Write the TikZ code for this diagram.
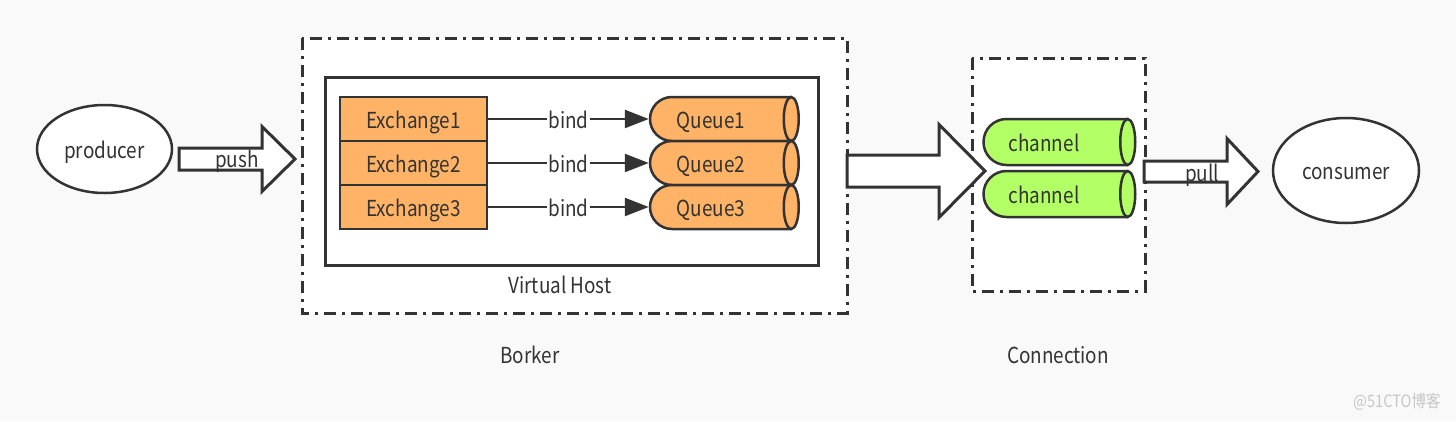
\documentclass[tikz,border=0pt]{standalone}
\usepackage{fontspec}
\setmainfont{Noto Sans CJK SC}[FakeStretch=0.86]
\usetikzlibrary{shapes.geometric,shapes.misc,arrows.meta}
\definecolor{ink}{HTML}{333333}
\definecolor{qorange}{HTML}{FFB366}
\definecolor{chgreen}{HTML}{B3FF66}
\definecolor{paper}{HTML}{F9F9F9}
\tikzstyle{lbl}=[inner sep=0pt,text=ink,text height=20pt,text depth=2pt,font=\fontsize{22}{24}\selectfont]
% tail x, mid y, head base x, tip x, shaft half, head half
\newcommand{\blockarrow}[6]{%
  \draw[fatline] (#1,#2-#5) -- (#3,#2-#5) -- (#3,#2-#6) -- (#4,#2) -- (#3,#2+#6) -- (#3,#2+#5) -- (#1,#2+#5) -- cycle;}

\begin{document}
\begin{tikzpicture}[x=1pt,y=-1pt]
    \tikzstyle{client}=[ellipse,draw=ink,line width=2.5pt,fill=white,inner sep=0pt,lbl]
    \tikzstyle{exchange}=[rectangle,draw=ink,line width=2.5pt,fill=qorange,minimum width=147pt,minimum height=44pt,lbl]
    \tikzstyle{queue}=[rounded rectangle,rounded rectangle right arc=none,draw=ink,line width=2.5pt,fill=qorange,minimum width=140pt,minimum height=44pt,inner sep=0pt]
    \tikzstyle{channel}=[queue,fill=chgreen,minimum width=143pt,minimum height=46pt]
    \tikzstyle{frame}=[draw=ink,line width=3pt,fill=white,dash pattern=on 12pt off 6pt on 3pt off 6pt]
    \tikzstyle{fatline}=[draw=ink,line width=3pt,fill=white,line join=miter]
    \tikzstyle{bindline}=[draw=ink,line width=2.5pt,-{Triangle[length=24pt,width=18pt]}]
    \fill[paper] (0,0) rectangle (1456,421);
    \useasboundingbox (0,0) rectangle (1456,421);
    % broker and connection frames
    \draw[frame] (302,38) rectangle (847,313);
    \draw[frame] (972,58) rectangle (1145,291);
    \draw[draw=ink,line width=3pt,fill=white] (325,77) rectangle (818,265);
    \node[lbl] (VH) at (560,284) {Virtual Host};
    \node[lbl] (BK) at (530,354) {Borker};
    \node[lbl] (CN) at (1058,354) {Connection};
    % exchanges and queues
    \node[exchange] (E1) at (413.5,119) {Exchange1};
    \node[exchange] (E2) at (413.5,163) {Exchange2};
    \node[exchange] (E3) at (413.5,207) {Exchange3};
    \foreach \i/\y in {1/119,2/163,3/207} {
      \node[queue,label={[lbl,xshift=-9pt]center:Queue\i}] (Q\i) at (720,\y) {};
      \draw[draw=ink,line width=2.5pt,fill=qorange] (Q\i.east) ellipse [x radius=7.5pt,y radius=22pt];
      \draw[bindline] (E\i.east) -- node[lbl,fill=white,inner xsep=1pt] {bind} (Q\i.west);
    }
    % channels
    \node[channel,label={[lbl,xshift=-11pt]center:channel}] (C1) at (1055,142) {};
    \draw[draw=ink,line width=2.5pt,fill=chgreen] (C1.east) ellipse [x radius=7.5pt,y radius=23pt];
    \node[channel,label={[lbl,xshift=-11pt]center:channel}] (C2) at (1055,194) {};
    \draw[draw=ink,line width=2.5pt,fill=chgreen] (C2.east) ellipse [x radius=7.5pt,y radius=23pt];
    % clients
    \node[client,minimum width=135pt,minimum height=88pt] (P) at (104.5,149) {producer};
    \node[client,minimum width=146pt,minimum height=105pt] (CS) at (1346,170.5) {consumer};
    % fat arrows
    \blockarrow{179}{159}{262}{295}{11}{32.5}
    \node[lbl] (pushlbl) at (237,158.5) {push};
    \blockarrow{847}{171}{939}{985}{16}{46.5}
    \blockarrow{1144}{171.5}{1227}{1258}{10.5}{33}
    \node[lbl] (pulllbl) at (1202,172) {pull};
    \node[inner sep=0pt,text=black!22,font=\fontsize{17}{19}\selectfont] (wm) at (1397,402) {@51CTO博客};
\end{tikzpicture}
\end{document}
